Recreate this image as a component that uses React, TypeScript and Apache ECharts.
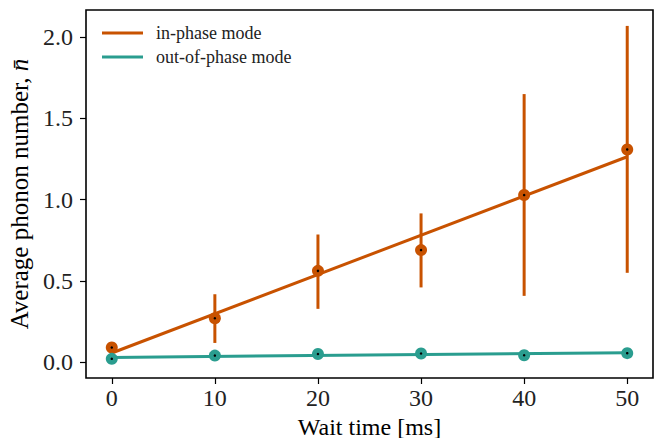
import React, { useEffect, useRef } from "react";
import * as echarts from "echarts";

const waitTimes = [0, 10, 20, 30, 40, 50];
const inPhase = [0.089, 0.269, 0.561, 0.689, 1.028, 1.309];
const inPhaseLow = [0.089, 0.117, 0.327, 0.459, 0.407, 0.549];
const inPhaseHigh = [0.089, 0.417, 0.785, 0.915, 1.65, 2.07];
const outPhase = [0.019, 0.039, 0.049, 0.052, 0.041, 0.054];
const fitX = [0, 50];
const fitInPhase = [0.055, 1.264];
const fitOutPhase = [0.028, 0.057];
const xTicks = [0, 10, 20, 30, 40, 50];
const yTicks = [0, 0.5, 1.0, 1.5, 2.0];

const ORANGE = "#c85200";
const TEAL = "#2a9d8f";
const FONT = "Liberation Serif";

export default function App() {
  const ref = useRef<HTMLDivElement>(null);
  useEffect(() => {
    if (!ref.current) return;
    const chart = echarts.init(ref.current, undefined, { renderer: "svg" });
    const errData = waitTimes.map((x, i) => [x, inPhaseLow[i], inPhaseHigh[i]]);
    chart.setOption({
      animation: false,
      backgroundColor: "#ffffff",
      textStyle: { fontFamily: FONT },
      grid: {
        left: 86,
        right: 13,
        top: 10,
        bottom: 60,
        containLabel: false,
        outerBoundsMode: "none",
        show: true,
        borderColor: "#000",
        borderWidth: 1.6,
        backgroundColor: "transparent",
      },
      legend: {
        orient: "vertical",
        left: 97,
        top: 19,
        itemWidth: 41,
        itemHeight: 3,
        itemGap: 6,
        icon: "rect",
        textStyle: { fontFamily: FONT, fontSize: 18, color: "#222", padding: [0, 0, 0, 8] },
        data: ["in-phase mode", "out-of-phase mode"],
      },
      xAxis: {
        type: "value",
        min: -2.5,
        max: 52.5,
        name: "Wait time [ms]",
        nameLocation: "middle",
        nameGap: 33,
        nameTextStyle: { fontFamily: FONT, fontSize: 24, lineHeight: 22, color: "#000" },
        axisLine: { show: false, onZero: false },
        splitLine: { show: false },
        axisTick: {
          show: true,
          length: 6,
          lineStyle: { color: "#000", width: 1.2 },
          customValues: xTicks,
        },
        axisLabel: {
          fontFamily: FONT,
          fontSize: 24,
          color: "#222",
          margin: 8,
          customValues: xTicks,
          formatter: (v: number) => String(v),
        },
      },
      yAxis: {
        type: "value",
        min: -0.099,
        max: 2.168,
        name: "Average phonon number, {it|n̄}",
        nameLocation: "middle",
        nameGap: 50,
        nameRotate: 90,
        nameTextStyle: {
          fontFamily: FONT,
          fontSize: 25,
          color: "#000",
          rich: { it: { fontFamily: FONT, fontSize: 25, fontStyle: "italic", color: "#000" } },
        },
        axisLine: { show: false, onZero: false },
        splitLine: { show: false },
        axisTick: {
          show: true,
          length: 6,
          lineStyle: { color: "#000", width: 1.2 },
          customValues: yTicks,
        },
        axisLabel: {
          fontFamily: FONT,
          fontSize: 24,
          color: "#222",
          margin: 13,
          customValues: yTicks,
          formatter: (v: number) => v.toFixed(1),
        },
      },
      series: [
        {
          name: "err",
          type: "custom",
          data: errData,
          z: 2,
          renderItem: (params: any, api: any) => {
            const x = api.value(0);
            const p1 = api.coord([x, api.value(1)]);
            const p2 = api.coord([x, api.value(2)]);
            return {
              type: "line",
              shape: { x1: p1[0], y1: p1[1], x2: p2[0], y2: p2[1] },
              style: { stroke: ORANGE, lineWidth: 3 },
            };
          },
        },
        {
          name: "in-phase mode",
          type: "line",
          data: fitX.map((x, i) => [x, fitInPhase[i]]),
          showSymbol: false,
          symbol: "none",
          color: ORANGE,
          lineStyle: { color: ORANGE, width: 3 },
          z: 3,
        },
        {
          name: "out-of-phase mode",
          type: "line",
          data: fitX.map((x, i) => [x, fitOutPhase[i]]),
          showSymbol: false,
          symbol: "none",
          color: TEAL,
          lineStyle: { color: TEAL, width: 3 },
          z: 3,
        },
        {
          name: "in-pts",
          type: "scatter",
          data: waitTimes.map((x, i) => [x, inPhase[i]]),
          symbol: "circle",
          symbolSize: 12,
          itemStyle: { color: ORANGE, opacity: 1 },
          z: 4,
        },
        {
          name: "out-pts",
          type: "scatter",
          data: waitTimes.map((x, i) => [x, outPhase[i]]),
          symbol: "circle",
          symbolSize: 12,
          itemStyle: { color: TEAL, opacity: 1 },
          z: 4,
        },
        {
          name: "in-dots",
          type: "scatter",
          data: waitTimes.map((x, i) => [x, inPhase[i]]),
          symbol: "circle",
          symbolSize: 2.5,
          itemStyle: { color: "#000", opacity: 1 },
          z: 5,
        },
        {
          name: "out-dots",
          type: "scatter",
          data: waitTimes.map((x, i) => [x, outPhase[i]]),
          symbol: "circle",
          symbolSize: 2.5,
          itemStyle: { color: "#000", opacity: 1 },
          z: 5,
        },
      ],
    });
    return () => chart.dispose();
  }, []);
  return <div ref={ref} style={{ width: 666, height: 438, position: "absolute", left: 0, top: 0 }} />;
}
